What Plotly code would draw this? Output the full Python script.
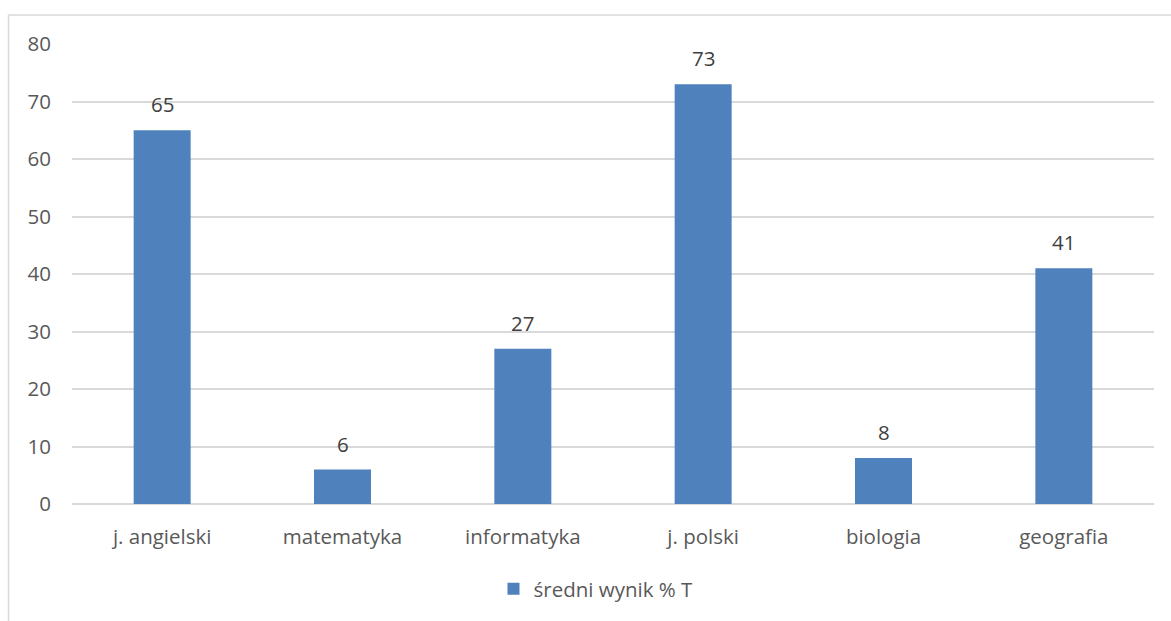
import plotly.graph_objects as go

categories = ["j. angielski", "matematyka", "informatyka", "j. polski", "biologia", "geografia"]
values = [65, 6, 27, 73, 8, 41]
series_name = "średni wynik % T"
y_ticks = [0, 10, 20, 30, 40, 50, 60, 70, 80]

W, H = 1171, 621
ml, mr, mt, mb = 72, 17, 44, 111
pw, ph = W - ml - mr, H - mt - mb

def px_x(x):
    return (x - ml) / pw

def px_y(y):
    return (H - mb - y) / ph

FS = 20.5
fig = go.Figure()
fig.add_trace(go.Bar(
    x=categories, y=values, name=series_name,
    marker=dict(color="#4F81BD", line=dict(width=0)),
))

annotations = [
    dict(x=c, y=v, xref="x", yref="y", text=str(v), showarrow=False,
         yanchor="bottom", yshift=10, font=dict(size=FS, color="#404040"))
    for c, v in zip(categories, values)
]

font_family = "Open Sans"
fig.update_layout(
    width=W, height=H,
    margin=dict(l=ml, r=mr, t=mt, b=mb),
    paper_bgcolor="white", plot_bgcolor="white",
    font=dict(family=font_family, size=FS, color="#595959"),
    bargap=0.684,
    showlegend=True,
    legend=dict(orientation="h", x=px_x(596), xanchor="center", y=px_y(596), yanchor="middle",
                font=dict(size=FS, color="#595959"), itemwidth=30),
    xaxis=dict(showgrid=False, showline=False, zeroline=False, ticks="",
               tickfont=dict(size=FS, color="#595959"), ticklabelstandoff=18),
    yaxis=dict(range=[0, 80], tickvals=y_ticks, showgrid=True, gridcolor="#D9D9D9",
               gridwidth=1.5, zeroline=True, zerolinecolor="#D9D9D9", zerolinewidth=1.5,
               showline=False, ticks="", tickfont=dict(size=FS, color="#595959"),
               ticklabelstandoff=20),
    annotations=annotations,
    shapes=[dict(type="rect", xref="paper", yref="paper",
                 x0=px_x(8.5), x1=px_x(1190), y0=px_y(650), y1=px_y(14.5),
                 line=dict(color="#D9D9D9", width=1.5), fillcolor="rgba(0,0,0,0)",
                 layer="below")],
)

fig.write_html("out.html", config={"displayModeBar": False},
               post_script="document.body.style.margin='0';document.body.style.overflow='hidden';")
